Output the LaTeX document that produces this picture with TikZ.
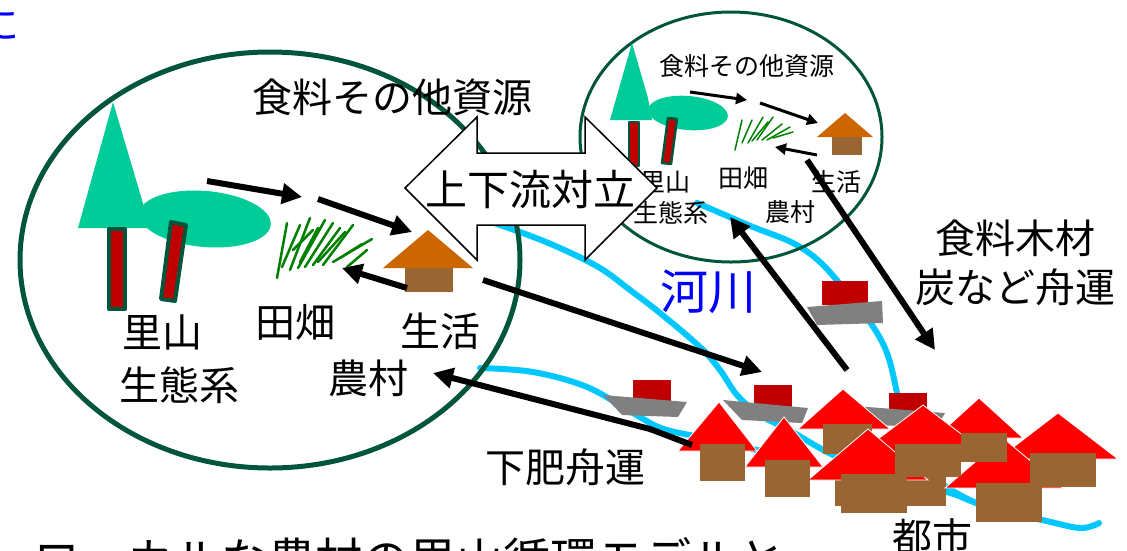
\documentclass[tikz,border=0pt]{standalone}
\usepackage{fontspec}
\setmainfont{Noto Sans CJK JP}
\usetikzlibrary{arrows.meta}
\definecolor{rim}{RGB}{0,85,60}
\definecolor{leaf}{RGB}{0,204,153}
\definecolor{trunkred}{RGB}{192,0,0}
\definecolor{grass}{RGB}{0,128,0}
\definecolor{water}{RGB}{0,200,255}
\definecolor{roofo}{RGB}{204,102,0}
\definecolor{wall}{RGB}{153,102,51}
\definecolor{roofr}{RGB}{255,0,0}
\definecolor{hull}{RGB}{128,128,128}
\definecolor{cabin}{RGB}{192,0,0}
\tikzset{
  lbl/.style={inner sep=0pt, font=\fontsize{40}{42}\selectfont},
  slbl/.style={inner sep=0pt, font=\fontsize{25}{27}\selectfont},
  flow/.style={line width=6pt, -{Triangle[length=20pt,width=20pt]}},
  sflow/.style={line width=3pt, -{Triangle[length=11pt,width=11pt]}},
  riverline/.style={draw=water, line width=6pt, line cap=round},
  blade/.style={draw=grass, line width=2.5pt, line cap=round},
  sblade/.style={draw=grass, line width=1.5pt, line cap=round},
  trunkbox/.style={fill=trunkred, draw=rim, line join=round},
  roof/.style={fill=roofr, draw=white, line width=0.8pt},
  body/.style={fill=wall},
  boathull/.style={fill=hull},
  boatcabin/.style={fill=cabin},
}
\begin{document}
\begin{tikzpicture}[x=1pt,y=-1pt]
\clip (0,0) rectangle (1127,550);
\fill[white] (0,0) rectangle (1127,550);

% ---------- rivers ----------
\draw[riverline] plot[smooth, tension=0.6] coordinates {(697,203) (725,215) (753,227) (793,243) (820,262) (845,290) (870,322) (887,353) (897,393) (905,435) (925,470) (960,495) (1000,512) (1042,520) (1080,528) (1099,523)};
\draw[riverline] plot[smooth, tension=0.6] coordinates {(470,215) (520,232) (560,248) (600,268) (630,290) (660,313) (700,347) (720,370) (737,395) (760,415) (789,430) (831,454) (880,475) (947,492) (977,503) (1030,518)};
\draw[riverline] plot[smooth, tension=0.6] coordinates {(480,368) (533,372) (587,387) (633,413) (667,430) (730,442) (757,450) (800,455)};

% ---------- village circles ----------
\draw[rim, line width=5pt] (270,260) ellipse [x radius=250, y radius=208];
\draw[rim, line width=3pt] (731,137) ellipse [x radius=151, y radius=125];

% ---------- large village: trees ----------
\fill[leaf] (113,102) -- (142,200) -- (150,228) -- (78,228) -- cycle;
\fill[leaf, rotate around={-5:(205,219)}] (205,219) ellipse [x radius=66, y radius=28];
\filldraw[trunkbox, line width=4pt] (109,229) rectangle (125,309);
\filldraw[trunkbox, line width=4pt] (171,222) -- (186,225) -- (175,301) -- (161,299) -- cycle;

% grass
\foreach \xa/\ya/\xb/\yb in {277/278/287/223, 282/267/300/225, 290/270/310/218,
  298/268/325/220, 305/267/333/223, 313/265/340/228, 323/265/353/225,
  333/262/372/239, 347/267/367/250, 293/250/313/230, 300/262/318/228,
  318/262/345/232, 340/258/362/244}
  \draw[blade] (\xa,\ya) -- (\xb,\yb);

% house
\fill[roofo] (428,230) -- (473,268) -- (383,268) -- cycle;
\fill[wall] (405,268) rectangle (453,292);

% ---------- small village ----------
\fill[leaf] (632,43) -- (648,98) -- (652,120) -- (610,120) -- cycle;
\fill[leaf, rotate around={-5:(688,113)}] (688,113) ellipse [x radius=40, y radius=17];
\filldraw[trunkbox, line width=2.5pt] (629,122) rectangle (639,166);
\filldraw[trunkbox, line width=2.5pt] (668,118) -- (677,119) -- (671,164) -- (662,163) -- cycle;
\foreach \xa/\ya/\xb/\yb in {735/150/742/120, 742/143/752/120, 748/143/763/117,
  757/140/773/117, 767/140/790/127, 773/138/793/132, 752/141/768/122,
  762/140/782/124}
  \draw[sblade] (\xa,\ya) -- (\xb,\yb);
\fill[roofo] (845,113) -- (873,137) -- (817,137) -- cycle;
\fill[wall] (832,137) rectangle (862,155);

% small village labels
\node[slbl] (sres) at (747,66) {食料その他資源};
\node[slbl] (ssato) at (665,182) {里山};
\node[slbl] (seco) at (671,213) {生態系};
\node[slbl] (sfield) at (743,178) {田畑};
\node[slbl] (slife) at (836,182) {生活};
\node[slbl] (svill) at (790,212) {農村};

% small village flows
\coordinate (s1a) at (690,92);  \coordinate (s1b) at (747,100);
\coordinate (s2a) at (760,103); \coordinate (s2b) at (818,123);
\coordinate (s3a) at (817,155); \coordinate (s3b) at (775,147);
\draw[sflow] (s1a) -- (s1b);
\draw[sflow] (s2a) -- (s2b);
\draw[sflow] (s3a) -- (s3b);

% ---------- large village labels ----------
\node[lbl] (res) at (392,97) {食料その他資源};
\node[lbl] (sato) at (162,332) {里山};
\node[lbl] (eco) at (179,385) {生態系};
\node[lbl] (field) at (295,322) {田畑};
\node[lbl] (life) at (440,331) {生活};
\node[lbl] (vill) at (368,378) {農村};

% large village flows
\coordinate (f1a) at (207,181); \coordinate (f1b) at (302,197);
\coordinate (f2a) at (318,199); \coordinate (f2b) at (412,232);
\coordinate (f3a) at (407,288); \coordinate (f3b) at (342,268);
\draw[flow] (f1a) -- (f1b);
\draw[flow] (f2a) -- (f2b);
\draw[flow] (f3a) -- (f3b);

% ---------- boats ----------
\fill[boatcabin] (633,380) rectangle (671,401);
\fill[boathull] (603,395) -- (687,402) -- (678,417) -- (622,415) -- cycle;
\fill[boatcabin] (754,385) rectangle (792,407);
\fill[boathull] (723,400) -- (808,408) -- (802,423) -- (742,420) -- cycle;
\fill[boatcabin] (889,393) rectangle (927,413);
\fill[boathull] (855,406) -- (945,413) -- (937,427) -- (870,425) -- cycle;
\fill[boatcabin] (822,281) rectangle (868,305);
\fill[boathull] (807,307) -- (882,301) -- (883,323) -- (817,325) -- cycle;

% ---------- city ----------
\filldraw[roof] (843,389) -- (890,429) -- (798,429) -- cycle;
\fill[body] (823,424) rectangle (872,454);
\filldraw[roof] (979,398) -- (1023,438) -- (935,438) -- cycle;
\filldraw[roof] (719,402) -- (757,451) -- (678,451) -- cycle;
\filldraw[roof] (923,405) -- (985,452) -- (861,452) -- cycle;
\fill[body] (835,456) rectangle (946,506);
\filldraw[roof] (784,417) -- (823,467) -- (745,467) -- cycle;
\filldraw[roof] (868,429) -- (928,480) -- (808,480) -- cycle;
\filldraw[roof] (1058,413) -- (1118,459) -- (998,459) -- cycle;
\filldraw[roof] (1003,438) -- (1063,488) -- (945,488) -- cycle;
\fill[body] (961,433) rectangle (1007,462);
\fill[body] (700,444) rectangle (745,481);
\fill[body] (895,444) rectangle (961,477);
\fill[body] (765,460) rectangle (810,497);
\fill[body] (841,474) rectangle (907,513);
\fill[body] (1030,453) rectangle (1096,487);
\fill[body] (976,483) rectangle (1042,522);

% ---------- labels around the river ----------
\node[inner sep=0pt, font=\fontsize{48}{50}\selectfont, text=blue] (riv) at (708,292) {河川};
\node[lbl] (wood) at (1015,238) {食料木材};
\node[lbl] (coal) at (1015,287) {炭など舟運};
\node[lbl] (manure) at (565,467) {下肥舟運};
\node[lbl] (city) at (932,537) {都市};
\node[inner sep=0pt, font=\fontsize{40}{42}\selectfont, text=blue, anchor=east] (cut) at (20,25) {に};
\node[inner sep=0pt, font=\fontsize{47}{50}\selectfont, anchor=base west] (caption) at (33,577) {ローカルな農村の里山循環モデルと};

% ---------- long flows ----------
\coordinate (la) at (483,280);  \coordinate (lb) at (762,372);
\coordinate (ma) at (692,445);  \coordinate (mk) at (650,429); \coordinate (mb) at (433,373);
\coordinate (ca) at (847,370);  \coordinate (cb) at (730,217);
\coordinate (da) at (807,160);  \coordinate (db) at (935,350);
\draw[flow] (la) -- (lb);
\draw[flow] (ma) -- (mk) -- (mb);
\draw[flow] (ca) -- (cb);
\draw[flow] (da) -- (db);

% ---------- conflict arrow ----------
\filldraw[fill=white, draw=black, line width=1.5pt, line join=miter]
  (405,188) -- (477,117) -- (477,153) -- (585,153) -- (585,117) -- (657,188)
  -- (585,260) -- (585,225) -- (477,225) -- (477,260) -- cycle;
\node[inner sep=0pt, font=\fontsize{42}{44}\selectfont] (conflict) at (530,190) {上下流対立};
\end{tikzpicture}
\end{document}
